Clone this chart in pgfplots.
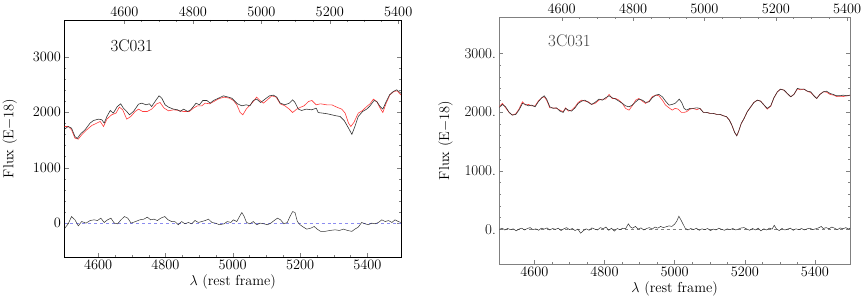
\documentclass[border=0pt]{standalone}
\usepackage{pgfplots}
\pgfplotsset{compat=1.18}
\definecolor{spec}{HTML}{333333}
\definecolor{model}{HTML}{FF3B3B}
\definecolor{zline}{HTML}{8C8CF0}
\begin{document}
\begin{tikzpicture}
\useasboundingbox (0,0) rectangle (864bp,308bp);
\pgfplotsset{
  panel/.style={scale only axis, anchor=south west,
    xmin=4500, xmax=5500,
    tick align=inside, major tick length=4bp, minor tick length=2bp,
    xtick={4600,4800,5000,5200,5400}, minor x tick num=3,
    xtick pos=bottom, ytick pos=both,
    ytick={0,1000,2000,3000}, minor y tick num=4,
    scaled ticks=false,
    ticklabel style={font=\fontsize{15}{17}\selectfont},
    xticklabel style={/pgf/number format/1000 sep={}},
    yticklabel style={/pgf/number format/1000 sep={}},
    label style={font=\fontsize{14.5}{16}\selectfont},
    clip=true},
  toppanel/.style={scale only axis, anchor=south west,
    xmin=4425, xmax=5408, ymin=0, ymax=1,
    axis x line*=top, axis y line=none,
    tick align=inside, major tick length=4bp, minor tick length=2bp,
    xtick={4600,4800,5000,5200,5400}, minor x tick num=3,
    ticklabel style={font=\fontsize{15}{17}\selectfont},
    xticklabel style={/pgf/number format/1000 sep={}}},
}
% ---------- left panel ----------
\begin{axis}[panel, at={(64.5bp,51bp)}, width=336.5bp, height=237bp,
  ymin=-610, ymax=3660,
  xlabel={$\lambda$ (rest frame)}, ylabel={Flux (E$-$18)},
  xlabel style={yshift=2bp}, ylabel style={yshift=9bp}]
\addplot[zline, dashed, line width=0.5bp] coordinates {(4500,0)(5500,0)};
\addplot[model, line width=0.6bp] coordinates {
(4500,1741)(4511,1741)(4521,1681)(4531,1531)(4541,1513)(4551,1591)(4566,1681)(4581,1759)(4596,1802)(4606,1832)(4616,1741)(4626,1874)(4640,1952)(4653,1982)(4663,2090)(4673,2042)(4685,1874)(4697,1922)(4710,2012)(4720,2054)(4732,2012)(4746,2012)(4759,2054)(4774,2150)(4784,2174)(4796,2072)(4809,2024)(4824,2042)(4839,2030)(4854,2012)(4871,2012)(4883,2072)(4895,2114)(4908,2114)(4918,2162)(4931,2150)(4944,2191)(4958,2240)(4974,2270)(4990,2252)(5002,2210)(5012,2132)(5022,1993)(5030,1952)(5040,2054)(5049,2114)(5061,2191)(5071,2270)(5081,2210)(5091,2162)(5103,2222)(5116,2294)(5129,2270)(5141,2150)(5155,2114)(5168,2054)(5178,1993)(5190,2054)(5202,2090)(5212,2114)(5225,2191)(5235,2210)(5248,2132)(5261,2150)(5279,2132)(5294,2132)(5309,2090)(5324,2054)(5334,1982)(5344,1802)(5351,1741)(5360,1814)(5373,1982)(5386,2030)(5398,2101)(5408,2150)(5418,2234)(5428,2191)(5438,2072)(5446,1993)(5456,2162)(5467,2312)(5479,2372)(5489,2384)(5499,2312)};
\addplot[spec, line width=0.6bp] coordinates {
(4500,1694)(4511,1741)(4521,1712)(4531,1561)(4538,1525)(4548,1609)(4561,1681)(4576,1802)(4586,1849)(4601,1874)(4611,1862)(4618,1802)(4626,1921)(4636,2030)(4645,1982)(4657,2101)(4667,2150)(4675,2072)(4685,2012)(4693,1952)(4705,2012)(4720,2144)(4730,2162)(4742,2132)(4752,2150)(4759,2101)(4769,2191)(4781,2294)(4789,2252)(4799,2132)(4809,2090)(4824,2054)(4836,2042)(4844,2012)(4854,2054)(4866,2012)(4875,2042)(4883,2101)(4891,2162)(4901,2132)(4911,2210)(4923,2210)(4933,2162)(4943,2210)(4958,2252)(4972,2294)(4987,2270)(4997,2252)(5002,2222)(5014,2150)(5027,2114)(5040,2132)(5051,2114)(5061,2210)(5071,2234)(5083,2174)(5096,2234)(5109,2294)(5121,2306)(5131,2270)(5141,2162)(5155,2132)(5168,2162)(5178,2222)(5185,2174)(5195,2054)(5205,2030)(5218,2054)(5235,2042)(5248,2072)(5254,1993)(5267,1982)(5281,1970)(5294,1952)(5307,1934)(5319,1922)(5331,1850)(5344,1712)(5354,1600)(5363,1741)(5373,1922)(5386,2012)(5398,2054)(5408,2114)(5420,2210)(5428,2191)(5438,2101)(5446,2054)(5456,2191)(5466,2312)(5477,2372)(5487,2402)(5497,2354)(5500,2340)};
\addplot[spec, line width=0.5bp] coordinates {
(4501,-90)(4511,-12)(4521,119)(4531,60)(4541,-48)(4551,29)(4564,0)(4576,47)(4588,60)(4598,47)(4608,90)(4618,12)(4628,60)(4638,90)(4648,0)(4658,-12)(4668,60)(4678,119)(4688,90)(4698,0)(4711,29)(4724,60)(4736,72)(4746,108)(4756,60)(4766,72)(4776,47)(4786,90)(4798,119)(4808,60)(4818,29)(4828,29)(4838,-29)(4848,29)(4858,-12)(4868,12)(4878,-12)(4888,47)(4898,12)(4908,29)(4918,47)(4928,72)(4938,12)(4948,0)(4961,-29)(4974,-12)(4984,29)(4994,12)(5002,60)(5012,29)(5020,119)(5027,191)(5033,132)(5041,12)(5051,-12)(5061,29)(5071,-29)(5081,0)(5093,-12)(5103,-29)(5113,0)(5123,47)(5133,90)(5142,60)(5152,-12)(5162,12)(5170,119)(5178,209)(5185,191)(5192,29)(5200,-29)(5210,-72)(5220,-108)(5232,-90)(5242,-60)(5251,-108)(5261,-148)(5274,-148)(5289,-132)(5304,-120)(5317,-132)(5329,-108)(5341,-132)(5354,-148)(5363,-108)(5373,-72)(5383,12)(5393,-12)(5403,-29)(5413,0)(5423,-12)(5433,12)(5443,60)(5453,29)(5463,47)(5473,12)(5482,60)(5492,29)(5500,12)};
\node[font=\fontsize{17}{19}\selectfont] at (axis cs:4700,3200) {3C031};
\end{axis}
\begin{axis}[toppanel, at={(64.5bp,51bp)}, width=336.5bp, height=237bp]
\end{axis}
% ---------- right panel ----------
\begin{axis}[panel, at={(499.3bp,44bp)}, width=350.7bp, height=247bp,
  ymin=-590, ymax=3620, axis line style={gray}, every tick/.style={gray},
  yticklabels={0.,1000.,2000.,3000.},
  xlabel={$\lambda$ (rest frame)}, ylabel={Flux (E$-$18)},
  xlabel style={yshift=2bp}, ylabel style={yshift=5bp}]
\addplot[gray, dashed, line width=0.5bp] coordinates {(4500,0)(5500,0)};
\addplot[model, line width=0.6bp] coordinates {
(4499,2089)(4509,2147)(4518,2072)(4528,1994)(4537,1948)(4547,1971)(4556,2050)(4566,2174)(4575,2118)(4583,2130)(4592,2106)(4602,2106)(4611,2186)(4621,2243)(4628,2260)(4635,2203)(4644,2072)(4654,2072)(4663,2062)(4673,2033)(4682,2005)(4689,2072)(4697,2016)(4706,2033)(4716,2089)(4725,2164)(4735,2203)(4744,2186)(4754,2174)(4763,2130)(4773,2147)(4784,2203)(4794,2220)(4803,2220)(4813,2300)(4822,2231)(4832,2231)(4841,2203)(4851,2147)(4860,2062)(4870,2033)(4879,2106)(4889,2203)(4898,2231)(4908,2186)(4917,2147)(4927,2186)(4936,2260)(4946,2288)(4955,2277)(4965,2203)(4974,2118)(4984,2072)(4993,2033)(5001,2062)(5010,2050)(5019,1994)(5027,1994)(5034,2005)(5044,2050)(5053,2062)(5063,2040)(5072,2062)(5082,1994)(5091,1994)(5101,1977)(5110,1977)(5120,1960)(5129,1960)(5139,1937)(5148,1920)(5156,1863)(5163,1778)(5171,1653)(5177,1596)(5182,1664)(5190,1806)(5198,1891)(5207,2005)(5217,2089)(5226,2164)(5236,2203)(5245,2186)(5255,2118)(5264,2050)(5274,2100)(5283,2243)(5293,2345)(5302,2390)(5312,2373)(5321,2317)(5331,2260)(5340,2300)(5350,2395)(5359,2380)(5369,2390)(5378,2356)(5388,2330)(5397,2277)(5405,2231)(5414,2300)(5424,2345)(5433,2340)(5443,2300)(5452,2290)(5462,2265)(5471,2270)(5481,2265)(5490,2277)(5500,2280)};
\addplot[spec, line width=0.6bp] coordinates {
(4499,2072)(4509,2130)(4518,2089)(4528,1994)(4537,1948)(4547,1960)(4556,2033)(4566,2147)(4575,2130)(4583,2106)(4592,2118)(4602,2089)(4611,2174)(4621,2243)(4628,2277)(4635,2220)(4644,2089)(4654,2062)(4663,2072)(4673,2016)(4682,1994)(4689,2062)(4697,2033)(4706,2016)(4716,2072)(4725,2147)(4735,2186)(4744,2203)(4754,2164)(4763,2130)(4773,2164)(4784,2220)(4794,2203)(4803,2243)(4813,2277)(4822,2243)(4832,2220)(4841,2186)(4851,2147)(4860,2106)(4870,2089)(4879,2118)(4889,2174)(4898,2220)(4908,2203)(4917,2164)(4927,2174)(4936,2243)(4946,2288)(4955,2300)(4965,2260)(4974,2186)(4984,2118)(4993,2130)(5001,2147)(5006,2174)(5013,2220)(5020,2164)(5027,2062)(5034,2033)(5044,2062)(5053,2062)(5063,2072)(5072,2062)(5082,1994)(5091,1994)(5101,1977)(5110,1977)(5120,1960)(5129,1960)(5139,1937)(5148,1920)(5156,1863)(5163,1778)(5171,1653)(5177,1596)(5182,1664)(5190,1806)(5198,1891)(5207,2005)(5217,2089)(5226,2164)(5236,2203)(5245,2186)(5255,2118)(5264,2062)(5274,2106)(5283,2243)(5293,2345)(5302,2390)(5312,2373)(5321,2317)(5331,2260)(5340,2300)(5350,2402)(5359,2390)(5369,2390)(5378,2356)(5388,2345)(5397,2277)(5405,2231)(5414,2300)(5424,2345)(5433,2356)(5443,2317)(5452,2300)(5462,2277)(5471,2277)(5481,2288)(5490,2277)(5500,2288)};
\addplot[spec, line width=0.5bp] coordinates {
(4500,0)(4508,20)(4516,-10)(4524,15)(4532,-5)(4540,10)(4548,-25)(4556,5)(4564,20)(4572,-10)(4580,15)(4588,30)(4596,-5)(4604,10)(4612,-15)(4620,20)(4628,5)(4636,25)(4644,-10)(4652,15)(4660,0)(4668,20)(4676,-20)(4684,10)(4692,30)(4700,-5)(4708,15)(4716,-20)(4724,5)(4732,-65)(4740,-20)(4748,10)(4756,-15)(4764,25)(4772,5)(4780,-10)(4788,30)(4796,10)(4804,40)(4812,-15)(4820,20)(4828,-30)(4836,15)(4844,-5)(4852,20)(4860,10)(4868,95)(4874,40)(4880,20)(4888,50)(4896,5)(4904,25)(4912,-10)(4920,15)(4928,30)(4936,5)(4944,40)(4952,20)(4960,50)(4968,30)(4976,45)(4984,60)(4992,50)(5000,90)(5006,140)(5012,225)(5018,160)(5024,90)(5030,20)(5038,-10)(5046,15)(5054,-5)(5062,20)(5070,-15)(5078,10)(5086,-5)(5094,15)(5102,-20)(5110,5)(5118,-10)(5126,20)(5134,0)(5142,-15)(5150,10)(5158,-5)(5166,15)(5174,-10)(5182,5)(5190,25)(5198,30)(5206,5)(5214,-15)(5222,15)(5230,-10)(5238,20)(5246,-25)(5254,10)(5262,-10)(5270,20)(5278,5)(5284,70)(5290,10)(5298,-20)(5306,15)(5314,-10)(5322,5)(5330,20)(5338,-15)(5346,10)(5354,-5)(5362,15)(5370,-10)(5378,10)(5386,20)(5394,-5)(5402,10)(5410,25)(5418,50)(5424,15)(5432,30)(5440,10)(5448,40)(5456,20)(5464,-5)(5472,25)(5480,10)(5488,30)(5496,5)(5500,20)};
\node[font=\fontsize{17}{19}\selectfont, text=black!75] at (axis cs:4700,3210) {3C031};
\end{axis}
\begin{axis}[toppanel, at={(499.3bp,44bp)}, width=350.7bp, height=247bp,
  axis line style={gray}, every tick/.style={gray}]
\end{axis}
\end{tikzpicture}
\end{document}
